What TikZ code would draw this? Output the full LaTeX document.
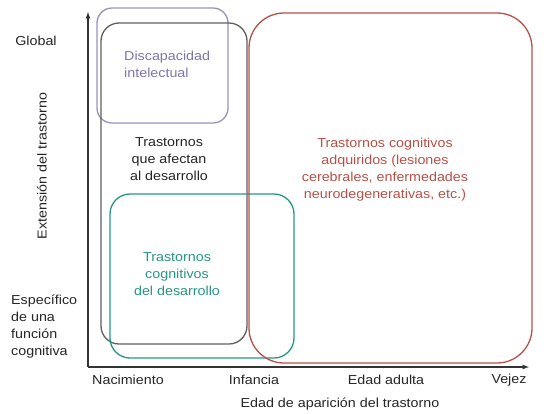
\documentclass[tikz,border=0pt]{standalone}
\usepackage{fontspec}
\setmainfont[FakeStretch=1.1]{Liberation Sans}
\usetikzlibrary{arrows,positioning}
\definecolor{lila}{RGB}{125,118,175}
\definecolor{lilacaja}{RGB}{150,148,190}
\definecolor{verde}{RGB}{40,150,135}
\definecolor{rojo}{RGB}{185,80,70}
\definecolor{gris}{RGB}{95,95,95}

\begin{document}
\begin{tikzpicture}[x=1pt, y=-1pt,
  texto/.style={font=\fontsize{13}{17}\selectfont, inner sep=0pt, text=black!85},
  caja/.style={line width=1.3pt}]
\useasboundingbox (0,0) rectangle (544,413);

\coordinate (O) at (88,367);
\coordinate (ytop) at (88,12);
\coordinate (xend) at (529,367);
\draw[-latex, line width=1.2pt, black!80] (O) -- (ytop);
\draw[-latex, line width=1.2pt, black!80] (O) -- (xend);

\draw[caja, lilacaja, rounded corners=15pt] (97,8) rectangle (228,123);
\draw[caja, gris, rounded corners=18pt] (101,23) rectangle (247,344);
\draw[caja, verde, rounded corners=20pt] (110,194) rectangle (294,358);
\draw[caja, rojo, rounded corners=35pt] (249,13) rectangle (532,363);

\node[texto] (global) at (36,41) {Global};
\node[texto, rotate=90] (extension) at (42,166) {Extensión del trastorno};
\node[texto, anchor=west, align=left] (especifico) at (11,327) {Específico\\de una\\función\\cognitiva};

\node[texto, anchor=west, align=left, text=lila] (discapacidad) at (124,64) {Discapacidad\\intelectual};
\node[texto, align=center] (afectan) at (169,159) {Trastornos\\que afectan\\al desarrollo};
\node[texto, align=center, text=verde] (cognitivos) at (177,274) {Trastornos\\cognitivos\\del desarrollo};
\node[texto, align=center, text=rojo] (adquiridos) at (385,170) {Trastornos cognitivos\\adquiridos (lesiones\\cerebrales, enfermedades\\neurodegenerativas, etc.)};

\node[texto] (nacimiento) at (128,380) {Nacimiento};
\node[texto] (infancia) at (254,380) {Infancia};
\node[texto] (adulta) at (386,380) {Edad adulta};
\node[texto] (vejez) at (509,380) {Vejez};
\node[texto] (aparicion) at (340,404) {Edad de aparición del trastorno};

\end{tikzpicture}
\end{document}
